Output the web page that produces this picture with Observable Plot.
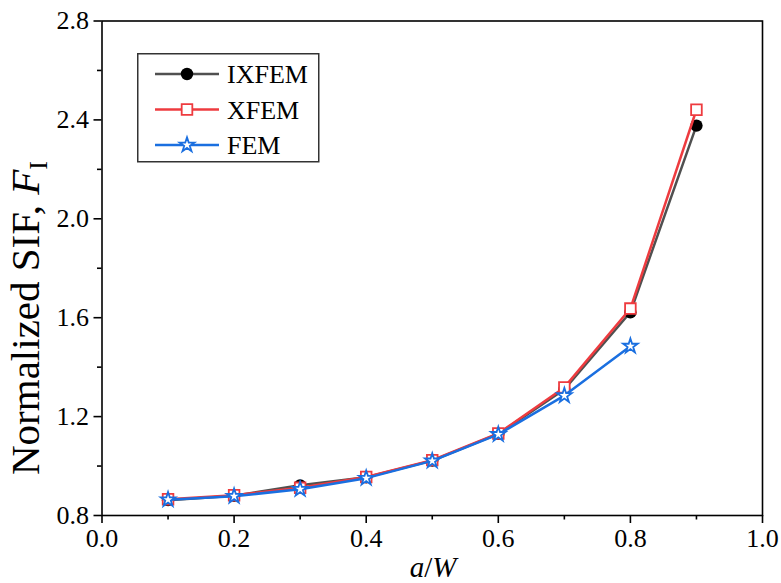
<!DOCTYPE html>
<html>
<head>
<meta charset="utf-8">
<script src="https://cdn.jsdelivr.net/npm/d3@7"></script>
<script src="https://cdn.jsdelivr.net/npm/@observablehq/plot@0.6"></script>
<style>
  html, body { margin: 0; padding: 0; background: #fff; }
  #wrap { position: relative; width: 781px; height: 583px; overflow: hidden; }
  #legend { position: absolute; left: 137px; top: 53px; }
</style>
</head>
<body>
<div id="wrap"></div>
<script>
const aW = [0.1, 0.2, 0.3, 0.4, 0.5, 0.6, 0.7, 0.8, 0.9];
const ixfem = [0.862, 0.880, 0.922, 0.955, 1.022, 1.130, 1.310, 1.622, 2.377];
const xfem  = [0.866, 0.882, 0.912, 0.956, 1.024, 1.132, 1.318, 1.637, 2.441];
const femX  = [0.1, 0.2, 0.3, 0.4, 0.5, 0.6, 0.7, 0.8];
const fem   = [0.864, 0.878, 0.906, 0.951, 1.021, 1.128, 1.285, 1.485];
const xTicks = [0.0, 0.2, 0.4, 0.6, 0.8, 1.0];
const xMinor = [0.1, 0.3, 0.5, 0.7, 0.9];
const yTicks = [0.8, 1.2, 1.6, 2.0, 2.4, 2.8];
const yMinor = [1.0, 1.4, 1.8, 2.2, 2.6];
const seriesNames = ["IXFEM", "XFEM", "FEM"];
const colors = ["#505050", "#ee3b3f", "#1a6fe0"];

const d1 = aW.map((x, i) => ({x, y: ixfem[i]}));
const d2 = aW.map((x, i) => ({x, y: xfem[i]}));
const d3d = femX.map((x, i) => ({x, y: fem[i]}));

const FS = 26;
const chart = Plot.plot({
  width: 781,
  height: 583,
  marginLeft: 101.5,
  marginRight: 19,
  marginTop: 20.5,
  marginBottom: 68,
  style: {fontFamily: "Liberation Serif", fontSize: FS + "px", color: "#000", background: "#fff"},
  x: {domain: [0, 1], label: null},
  y: {domain: [0.8, 2.8], label: null},
  marks: [
    Plot.axisX({ticks: xTicks, tickSize: 8, tickPadding: 5, fontSize: FS, tickFormat: d3.format(".1f"), strokeWidth: 1.6}),
    Plot.axisX({ticks: xMinor, tickSize: 4.5, text: null, strokeWidth: 1.6}),
    Plot.axisY({ticks: yTicks, tickSize: 8, tickPadding: 5, fontSize: FS, tickFormat: d3.format(".1f"), strokeWidth: 1.6}),
    Plot.axisY({ticks: yMinor, tickSize: 4.5, text: null, strokeWidth: 1.6}),
    Plot.line(d1, {x: "x", y: "y", stroke: colors[0], strokeWidth: 2.5}),
    Plot.dot(d1, {x: "x", y: "y", r: 6.2, fill: "#000", stroke: "none"}),
    Plot.line(d2, {x: "x", y: "y", stroke: colors[1], strokeWidth: 2.5}),
    Plot.dot(d2, {x: "x", y: "y", symbol: "square", r: 6, fill: "#fff", stroke: colors[1], strokeWidth: 1.8}),
    Plot.line(d3d, {x: "x", y: "y", stroke: colors[2], strokeWidth: 2.5}),
    Plot.dot(d3d, {x: "x", y: "y", symbol: "star", r: 4.6, fill: "#fff", stroke: colors[2], strokeWidth: 1.8}),
    Plot.frame({stroke: "#000", strokeWidth: 1.6})
  ]
});

const svg = d3.select(chart);
// y-axis label
const yl = svg.append("text")
  .attr("transform", "translate(39,318) rotate(-90)")
  .attr("text-anchor", "middle")
  .attr("font-family", "Liberation Serif")
  .attr("font-size", "41px")
  .attr("fill", "#000");
yl.append("tspan").text("Normalized SIF, ");
yl.append("tspan").attr("font-style", "italic").text("F");
yl.append("tspan").attr("font-size", "26px").attr("dy", "8").text("I");

// x-axis label
const xl = svg.append("text")
  .attr("x", 433).attr("y", 577)
  .attr("text-anchor", "middle")
  .attr("font-family", "Liberation Serif")
  .attr("font-size", "29px")
  .attr("fill", "#000");
xl.append("tspan").attr("font-style", "italic").text("a");
xl.append("tspan").text("/");
xl.append("tspan").attr("font-style", "italic").text("W");

document.getElementById("wrap").appendChild(chart);

// legend
const lg = d3.select("#wrap").append("div").attr("id", "legend");
const ls = lg.append("svg").attr("width", 183).attr("height", 110);
ls.append("rect").attr("x", 0.75).attr("y", 0.75).attr("width", 181).attr("height", 108)
  .attr("fill", "#fff").attr("stroke", "#333").attr("stroke-width", 1.5);
seriesNames.forEach((name, i) => {
  const cy = 21 + i * 35.5;
  ls.append("line").attr("x1", 18).attr("x2", 82).attr("y1", cy).attr("y2", cy)
    .attr("stroke", colors[i]).attr("stroke-width", 2.5);
  const sym = [d3.symbolCircle, d3.symbolSquare, d3.symbolStar][i];
  const size = [6.2, 6, 4.6][i];
  ls.append("path")
    .attr("d", d3.symbol(sym, size * size * Math.PI)())
    .attr("transform", `translate(50,${cy})`)
    .attr("fill", i === 0 ? "#000" : "#fff")
    .attr("stroke", i === 0 ? "none" : colors[i])
    .attr("stroke-width", 1.8);
  ls.append("text").attr("x", 90).attr("y", cy + 9)
    .attr("font-family", "Liberation Serif").attr("font-size", "26px").attr("fill", "#000")
    .text(name);
});
</script>
</body>
</html>
